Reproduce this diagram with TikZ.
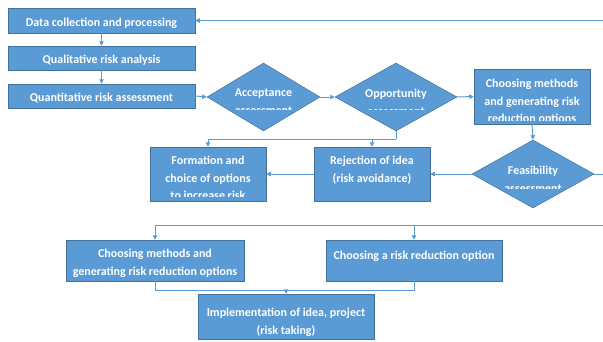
\documentclass[tikz,border=0pt]{standalone}
\usepackage{fontspec}
\setmainfont{Carlito}
\usetikzlibrary{shapes.geometric,arrows.meta}
\definecolor{boxblue}{HTML}{5B9BD5}
\definecolor{boxedge}{HTML}{41719C}
\definecolor{lineblue}{HTML}{5B9BD5}
\begin{document}
\begin{tikzpicture}[x=1pt,y=-1pt,
  rbox/.style={rectangle, draw=boxedge, fill=boxblue, line width=0.5pt, inner sep=0pt},
  dia/.style={diamond, draw=boxedge, fill=boxblue, line width=0.5pt, inner sep=0pt, minimum width=122pt, minimum height=68pt},
  txt/.style={text=white, font=\bfseries\fontsize{12}{17.5}\selectfont, align=center, inner sep=0pt, anchor=north},
  conn/.style={draw=lineblue, line width=1pt},
  arr/.style={conn, -{Triangle[length=4.5pt,width=4.5pt]}}]
\useasboundingbox (0,0) rectangle (603,341);

% shapes
\node[rbox, minimum width=187pt, minimum height=25pt] (d1) at (101.5,20.5) {};
\node[rbox, minimum width=187pt, minimum height=24pt] (d2) at (101.5,58) {};
\node[rbox, minimum width=187pt, minimum height=24pt] (d3) at (101.5,96) {};
\node[dia, minimum width=113pt] (acc) at (263.5,97) {};
\node[dia] (opp) at (396,97) {};
\node[rbox, minimum width=116pt, minimum height=55pt] (chm) at (532,96.5) {};
\node[dia] (feas) at (533,174) {};
\node[rbox, minimum width=116pt, minimum height=54pt] (rej) at (372,174) {};
\node[rbox, minimum width=116pt, minimum height=54pt] (form) at (208,174) {};
\node[rbox, minimum width=178pt, minimum height=41pt] (chmb) at (155,260.5) {};
\node[rbox, minimum width=176pt, minimum height=41pt] (cro) at (414,260.5) {};
\node[rbox, minimum width=176pt, minimum height=45pt] (impl) at (286,316.5) {};

% texts
\node[txt] (d1t) at (101.5,17.5) {Data collection and processing};
\node[txt] (d2t) at (101.5,55.2) {Qualitative risk analysis};
\node[txt] (d3t) at (101.5,93) {Quantitative risk assessment};
\begin{scope}
  \clip (200,60) rectangle (330,109.5);
  \node[txt] (acct) at (263.5,89) {Acceptance\\assessment};
\end{scope}
\begin{scope}
  \clip (330,60) rectangle (460,109.5);
  \node[txt] (oppt) at (396,89) {Opportunity\\assessment};
\end{scope}
\begin{scope}
  \clip (474,69) rectangle (590,120.5);
  \node[txt] (chmt) at (532,79) {Choosing methods\\and generating risk\\reduction options};
\end{scope}
\begin{scope}
  \clip (470,140) rectangle (596,188.5);
  \node[txt] (feast) at (533,166) {Feasibility\\assessment};
\end{scope}
\node[txt] (rejt) at (372,156) {Rejection of idea\\(risk avoidance)};
\begin{scope}
  \clip (150,147) rectangle (266,196.5);
  \node[txt] (formt) at (208,156) {Formation and\\choice of options\\to increase risk};
\end{scope}
\node[txt] (chmbt) at (155,249) {Choosing methods and\\generating risk reduction options};
\node[txt] (crot) at (414,251) {Choosing a risk reduction option};
\node[txt] (implt) at (286,308) {Implementation of idea, project\\(risk taking)};

% free ends at the right edge
\coordinate (fbtop) at (603,20.5);
\coordinate (fbmid) at (603,174);
\coordinate (fbbot) at (603,225);

% connectors
\draw[arr] (fbtop) -- (d1.east);
\draw[arr] (d1) -- (d2);
\draw[arr] (d2) -- (d3);
\draw[arr] (d3.east) -- (acc.west);
\draw[arr] (acc.east) -- (opp.west);
\draw[arr] (opp.east) -- (chm.west);
\draw[arr] (chm.south) -- (feas.north);
\draw[conn] (feas.east) -- (fbmid);
\draw[arr] (feas.west) -- (rej.east);
\draw[arr] (rej.west) -- (form.east);
\draw[conn] (opp.south) -- ++(0,8) coordinate (j1);
\draw[arr] (j1) -| (form.north);
\draw[arr] (rej.north |- j1) -- (rej.north);
\draw[arr] (fbbot) -| (chmb.north);
\draw[arr] (cro.north |- fbbot) -- (cro.north);
\draw[conn] (chmb.south) -- ++(0,9) coordinate (j2) -| (cro.south);
\draw[arr] (impl.north |- j2) -- (impl.north);
\end{tikzpicture}
\end{document}
